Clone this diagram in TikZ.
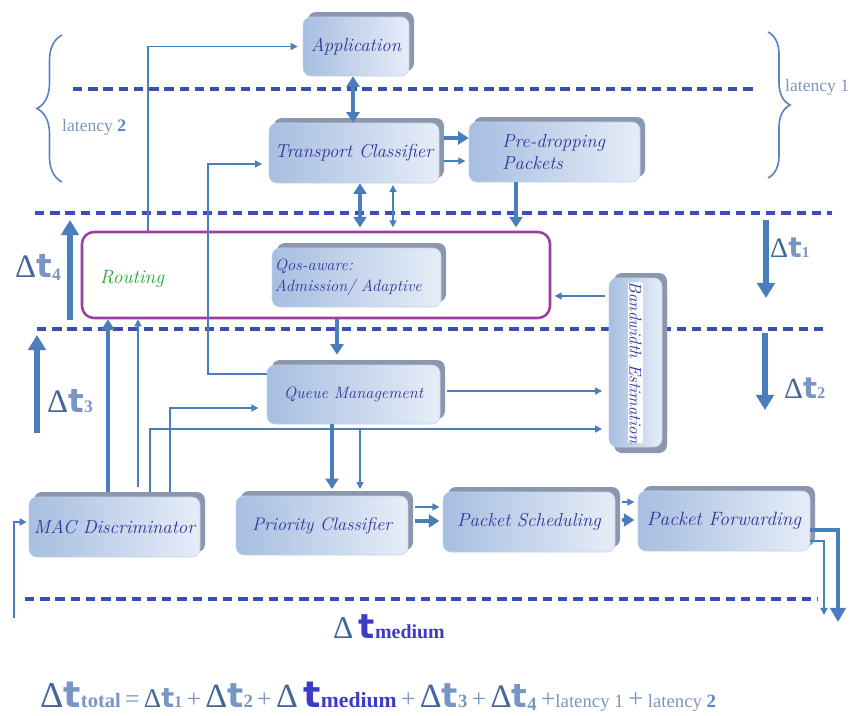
\documentclass[tikz,border=0pt]{standalone}
\usepackage{fontspec}
\usetikzlibrary{arrows.meta,shadows,decorations.pathreplacing}
\newfontfamily\serifL{Liberation Serif}
\newfontfamily\sansD{DejaVu Sans}
\definecolor{arrowC}{HTML}{4A7EBB}
\definecolor{dashC}{HTML}{3A4DB8}
\definecolor{boxL}{HTML}{A6BEE0}
\definecolor{boxR}{HTML}{E6EDF8}
\definecolor{boxEdge}{HTML}{C5D3E8}
\definecolor{shadowC}{HTML}{8A97AE}
\definecolor{boxtext}{HTML}{33339A}
\definecolor{routeC}{HTML}{9E3E9E}
\definecolor{greenC}{HTML}{22A832}
\definecolor{dC}{HTML}{44679A}
\definecolor{tC}{HTML}{7896C4}
\definecolor{latC}{HTML}{7D95BD}
\definecolor{medC}{HTML}{3B3BC8}
\definecolor{braceC}{HTML}{5B85C0}
\newcommand\Dt[4]{{\serifL\fontsize{#1}{#1}\selectfont\color{dC}Δ}{\sansD\bfseries\fontsize{#2}{#2}\selectfont\color{tC}t}{\serifL\bfseries\fontsize{#4}{#4}\selectfont\color{tC}#3}}
\newcommand\plusS[1]{{\serifL\fontsize{#1}{#1}\selectfont\color{tC}\,+\,}}
\newcommand\fs[1]{\fontsize{#1}{#1}\selectfont}
\tikzset{
  box/.style={rounded corners=0.24cm, inner sep=1pt, left color=boxL, right color=boxR, draw=boxEdge, line width=0.5pt,
    font=\itshape\fontsize{16}{19}\selectfont, text=boxtext,
    general shadow={fill=shadowC, shadow xshift=0.15cm, shadow yshift=0.15cm}},
  bx/.style 2 args={minimum width=#1*0.03cm, minimum height=#2*0.03cm},
  dashsep/.style={draw=dashC, line width=2.6pt, dash pattern=on 8pt off 5pt},
  thn/.style={draw=arrowC, line width=1.3pt, -{Triangle[length=6pt,width=6pt]}},
  thnd/.style={draw=arrowC, line width=1.3pt, {Triangle[length=6pt,width=6pt]}-{Triangle[length=6pt,width=6pt]}},
  tk/.style={draw=arrowC, line width=4pt, -{Triangle[length=9pt,width=11pt]}},
  tkd/.style={draw=arrowC, line width=4pt, {Triangle[length=9pt,width=11pt]}-{Triangle[length=9pt,width=11pt]}},
  bigarr/.style={draw=arrowC, line width=5.5pt, -{Triangle[length=13pt,width=15pt]}},
  bracestyle/.style={draw=braceC, line width=1.4pt, decorate},
}
\begin{document}
\begin{tikzpicture}[x=0.03cm, y=-0.03cm]
\useasboundingbox (0,0) rectangle (855,715);
% helper coordinates
\foreach \v in {108,138,148,150,170,208,332,337,353,360,393,516,824,838}{\coordinate (X\v) at (\v,0);}
\foreach \v in {138,161,164,296,374,391,408,429,502,507,520,521,522,530,541,615,622}{\coordinate (H\v) at (0,\v);}

% dashed separators
\draw[dashsep] (73,89) -- (755,89);
\draw[dashsep] (35,213) -- (832,213);
\draw[dashsep] (37,329) -- (828,329);
\draw[dashsep] (25,599) -- (818,599);

% braces
\draw[bracestyle, decoration={brace, amplitude=0.75cm}] (62,182) -- (62,35);
\draw[bracestyle, decoration={brace, amplitude=0.66cm}] (768,32) -- (768,178);
\node[anchor=base west, inner sep=0] (lat2) at (62,131) {\serifL\fs{15}\color{latC}latency \textcolor{braceC}{\bfseries 2}};
\node[anchor=base west, inner sep=0] (lat1) at (785,91) {\serifL\fs{15}\color{latC}latency 1};

% routing container
\node[draw=routeC, line width=2.2pt, rounded corners=0.36cm, bx={468}{86}, inner sep=0] (routing) at (316,275) {};
\node[font=\itshape\fontsize{16.5}{18}\selectfont, text=greenC] (routingtxt) at (132,279) {Routing};

% boxes
\node[box, bx={106}{59}, font=\itshape\fs{16}] (app) at (356,46.5) {Application};
\node[box, bx={170}{60}] (tc) at (354,153) {Transport Classifier};
\node[box, bx={171}{60}, align=left, text width=4.0cm] (pd) at (554.5,152) {\hspace*{0.43cm}Pre-dropping\\\hspace*{0.43cm}Packets};
\node[box, bx={169}{59}, align=left, text width=4.9cm, font=\itshape\fontsize{14}{18}\selectfont] (qos) at (356.5,277.5) {Qos-aware:\\Admission/ Adaptive};
\node[box, bx={173}{59}, font=\itshape\fs{14}] (qm) at (353.5,394.5) {Queue Management};
\node[box, bx={171}{60}] (mac) at (114.5,527) {MAC Discriminator};
\node[box, bx={172}{59}, font=\itshape\fs{15.5}] (pc) at (322,525.5) {Priority Classifier};
\node[box, bx={172}{60}] (ps) at (529,522) {Packet Scheduling};
\node[box, bx={172}{60}, font=\itshape\fs{16.5}] (pf) at (724,521) {Packet Forwarding};
\node[box, bx={53}{169}, font=\itshape\fs{14.5}, general shadow={fill=shadowC, shadow xshift=0.15cm, shadow yshift=-0.18cm}] (bw) at (635.5,362.5)
  {\rotatebox{-90}{\setlength\fboxsep{1pt}\colorbox{white!80!boxR}{\makebox[4.75cm]{Bandwidth Estimation}}}};

% connectors
\draw[tkd] (app.south -| X353) -- (tc.north -| X353);
\draw[tk, shorten <=0.15cm] (tc.east |- H138) -- (pd.west |- H138);
\draw[thn, shorten <=0.15cm, shorten >=0.1cm] (tc.east |- H161) -- (pd.west |- H161);
\draw[tkd, shorten >=0.1cm] (tc.south -| X360) -- (routing.north -| X360);
\draw[thnd, shorten <=0.05cm, shorten >=0.1cm] (tc.south -| X393) -- (routing.north -| X393);
\draw[tk, shorten >=0.1cm] (pd.south -| X516) -- (routing.north -| X516);
\draw[thn, shorten >=0.15cm] (routing.north -| X148) |- (app.west);
\coordinate (c1) at (208,164);
\draw[thn, shorten >=0.2cm] (qm.west |- H374) -| (c1) -- (tc.west |- c1);
\draw[tk, shorten >=0.3cm] (routing.south -| X337) -- (qm.north -| X337);
\draw[thn, shorten <=0.2cm, shorten >=0.2cm] (qm.east |- H391) -- (bw.west |- H391);
\draw[thn, shorten <=0.15cm, shorten >=0.2cm] (mac.north -| X150) |- (bw.west |- H429);
\draw[thn, shorten <=0.15cm, shorten >=0.25cm] (mac.north -| X170) |- (qm.west |- H408);
\draw[tk, shorten <=0.15cm] (mac.north -| X108) -- (routing.south -| X108);
\draw[thn, shorten <=0.3cm] (mac.north -| X138) -- (routing.south -| X138);
\draw[thn, shorten <=0.1cm, shorten >=0.1cm] (bw.west |- H296) -- (routing.east |- H296);
\draw[tk, shorten >=0.2cm] (qm.south -| X332) -- (pc.north -| X332);
\draw[thn, shorten <=0.1cm, shorten >=0.2cm] (qm.south -| X360) -- (pc.north -| X360);
\draw[thn, shorten <=0.2cm, shorten >=0.1cm] (pc.east |- H507) -- (ps.west |- H507);
\draw[tk, shorten <=0.2cm, shorten >=0.1cm] (pc.east |- H521) -- (ps.west |- H521);
\draw[thn, shorten <=0.2cm, shorten >=0.1cm] (ps.east |- H502) -- (pf.west |- H502);
\draw[tk, shorten <=0.2cm, shorten >=0.1cm] (ps.east |- H520) -- (pf.west |- H520);
\coordinate (o1) at (838,622);
\coordinate (o2) at (824,615);
\draw[draw=arrowC, line width=4pt, -{Triangle[length=12pt,width=13pt]}] (pf.east |- H530) -| (o1);
\draw[thn] (pf.east |- H541) -| (o2);
\coordinate (i1) at (14,618);
\draw[thn, line width=1.8pt, shorten >=0.06cm] (i1) |- (mac.west |- H522);

% delta-t arrows
\coordinate (d4a) at (70,320); \coordinate (d4b) at (70,220);
\coordinate (d3a) at (37,433); \coordinate (d3b) at (37,335);
\coordinate (d1a) at (766,220); \coordinate (d1b) at (766,298);
\coordinate (d2a) at (765,333); \coordinate (d2b) at (765,410);
\draw[bigarr] (d4a) -- (d4b);
\draw[bigarr] (d3a) -- (d3b);
\draw[bigarr] (d1a) -- (d1b);
\draw[bigarr] (d2a) -- (d2b);
\node[anchor=base west, inner sep=0] (lt4) at (15,277) {\Dt{28}{28}{\raisebox{-3pt}{4}}{15}};
\node[anchor=base west, inner sep=0] (lt3) at (47,412) {\Dt{28}{28}{3}{15}};
\node[anchor=base west, inner sep=0] (lt1) at (770,257) {\Dt{24}{24}{1}{13}};
\node[anchor=base west, inner sep=0] (lt2) at (784,398) {\Dt{25}{25}{2}{14}};
\node[anchor=base west, inner sep=0] (ltm) at (333,638) {{\serifL\fs{27}\color{dC}Δ\,}{\sansD\bfseries\fs{29}\color{medC}t}{\serifL\bfseries\fs{17}\color{medC}medium}};

% total formula
\node[anchor=base west, inner sep=0] (formula) at (40,707) {%
{\serifL\fs{31}\color{dC}Δ}{\sansD\bfseries\fs{31}\color{tC}t}{\serifL\bfseries\fs{17.5}\color{tC}total}%
{\serifL\fs{22}\color{tC}\,=\,}%
\Dt{23}{23}{1}{14}\plusS{22}\Dt{29}{29}{2}{16}\plusS{22}%
{\serifL\fs{29}\color{dC}Δ\,}{\sansD\bfseries\fs{31}\color{medC}t}{\serifL\bfseries\fs{18.5}\color{medC}medium}%
\plusS{22}\Dt{29}{29}{3}{16}\plusS{22}\Dt{28}{28}{\raisebox{-3pt}{4}}{16}%
{\serifL\fs{22}\color{tC}\,+}{\serifL\fs{16}\color{latC}latency 1}%
{\serifL\fs{23}\color{tC}\,+\,}{\serifL\fs{16}\color{latC}latency \textcolor{braceC}{\bfseries 2}}};
\end{tikzpicture}
\end{document}
